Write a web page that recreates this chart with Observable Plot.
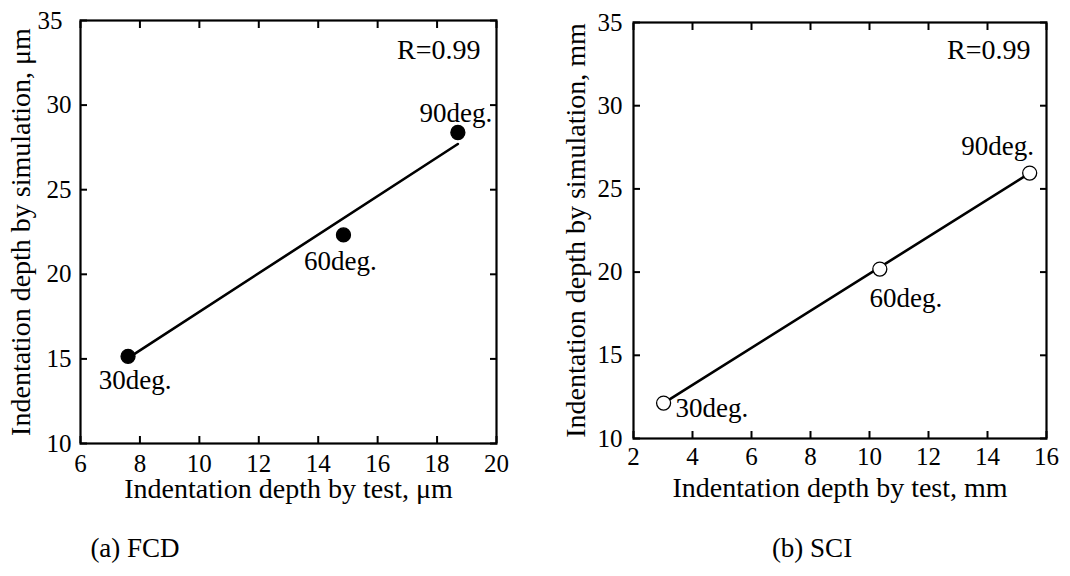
<!DOCTYPE html>
<html>
<head>
<meta charset="utf-8">
<script src="https://cdn.jsdelivr.net/npm/d3@7"></script>
<script src="https://cdn.jsdelivr.net/npm/@observablehq/plot@0.6"></script>
<style>
  body { margin: 0; background: #fff; font-family: "Liberation Serif", serif; }
  #row { display: flex; }
  #caps { position: relative; height: 30px; line-height: 30px; margin-top: 23px; font-size: 27px; color: #000; }
  #caps div { position: absolute; transform: translateX(-50%); white-space: nowrap; }
</style>
</head>
<body>
<div id="row"></div>
<div id="caps"><div style="left:135px">(a) FCD</div><div style="left:812px">(b) SCI</div></div>
<script>
// ---- data ----
const angleLabels = ["30deg.", "60deg.", "90deg."];
const fcdTest = [7.6, 14.85, 18.7];
const fcdSim  = [15.15, 22.33, 28.38];
const fcdFitX = [7.6, 18.7];
const fcdFitY = [15.05, 27.7];
const sciTest = [3.02, 10.35, 15.43];
const sciSim  = [12.13, 20.18, 25.95];
const sciFitX = [3.02, 15.43];
const sciFitY = [12.13, 25.95];
const fcdXTicks = [6, 8, 10, 12, 14, 16, 18, 20];
const sciXTicks = [2, 4, 6, 8, 10, 12, 14, 16];
const yTicks = [10, 15, 20, 25, 30, 35];
const rLabel = "R=0.99";
const fcdXLabel = "Indentation depth by test, \u03bcm";
const fcdYLabel = "Indentation depth by simulation, \u03bcm";
const sciXLabel = "Indentation depth by test, mm";
const sciYLabel = "Indentation depth by simulation, mm";

function panel(cfg) {
  const pts = cfg.test.map((t, i) => ({x: t, y: cfg.sim[i], label: angleLabels[i]}));
  const fit = cfg.fitX.map((x, i) => ({x, y: cfg.fitY[i]}));
  const tk = {tickSize: -7, strokeWidth: 2, tickFormat: () => "", label: null};
  const tx = {tickSize: 0, fontSize: 25, label: null};
  const yMax = yTicks[yTicks.length - 1];
  const marks = [
    Plot.frame({strokeWidth: 2.2}),
    Plot.axisX(cfg.xTicks, {anchor: "bottom", ...tk}),
    Plot.axisX(cfg.xTicks, {anchor: "top", ...tk}),
    Plot.axisY(yTicks, {anchor: "left", ...tk}),
    Plot.axisY(yTicks, {anchor: "right", ...tk}),
    Plot.axisX(cfg.xTicks, {anchor: "bottom", ...tx, tickPadding: cfg.xPad}),
    Plot.axisY(yTicks.filter(t => t !== yMax), {anchor: "left", ...tx, tickPadding: cfg.yPad}),
    Plot.axisY([yMax], {anchor: "left", ...tx, tickPadding: cfg.yTopPad}),
    Plot.line(fit, {x: "x", y: "y", stroke: "#000", strokeWidth: 2.6}),
    Plot.dot(pts, {x: "x", y: "y", r: 7, fill: cfg.filled ? "#000" : "#fff", stroke: "#000", strokeWidth: 1.3}),
    Plot.text([rLabel], {frameAnchor: "top-right", textAnchor: "end", lineAnchor: "middle", dx: -16, dy: cfg.rDy, fontSize: 28}),
    Plot.text([cfg.xLabel], {frameAnchor: "bottom", textAnchor: "middle", lineAnchor: "middle", dy: cfg.xLabDy, fontSize: 28}),
    Plot.text([cfg.yLabel], {frameAnchor: "left", textAnchor: "middle", lineAnchor: "middle", rotate: -90, dx: cfg.yLabDx, fontSize: 28})
  ];
  cfg.offsets.forEach((o, i) => {
    marks.push(Plot.text([pts[i]], {x: "x", y: "y", text: "label", dx: o[0], dy: o[1], textAnchor: o[2], lineAnchor: "middle", fontSize: 27}));
  });
  return Plot.plot({
    width: 535, height: 510,
    marginTop: cfg.m[0], marginRight: cfg.m[1], marginBottom: cfg.m[2], marginLeft: cfg.m[3],
    x: {domain: cfg.xDomain},
    y: {domain: [10, 35]},
    style: {fontFamily: "Liberation Serif", fontSize: "25px", color: "#000", background: "#fff", overflow: "visible"},
    marks
  });
}

const left = panel({
  test: fcdTest, sim: fcdSim, fitX: fcdFitX, fitY: fcdFitY, filled: true,
  xDomain: [6, 20], xTicks: fcdXTicks, xLabel: fcdXLabel, yLabel: fcdYLabel,
  m: [20, 39, 67, 80], xPad: 11, yPad: 9, yTopPad: 18, rDy: 30, xLabDy: 46, yLabDx: -59,
  offsets: [[7, 24, "middle"], [-3, 26, "middle"], [-2, -19, "middle"]]
});
const right = panel({
  test: sciTest, sim: sciSim, fitX: sciFitX, fitY: sciFitY, filled: false,
  xDomain: [2, 16], xTicks: sciXTicks, xLabel: sciXLabel, yLabel: sciYLabel,
  m: [22, 24, 72, 98], xPad: 9, yPad: 11, yTopPad: 11, rDy: 28, xLabDy: 50, yLabDx: -57,
  offsets: [[12, 5, "start"], [26, 29, "middle"], [-32, -27, "middle"]]
});
document.getElementById("row").append(left, right);
</script>
</body>
</html>
